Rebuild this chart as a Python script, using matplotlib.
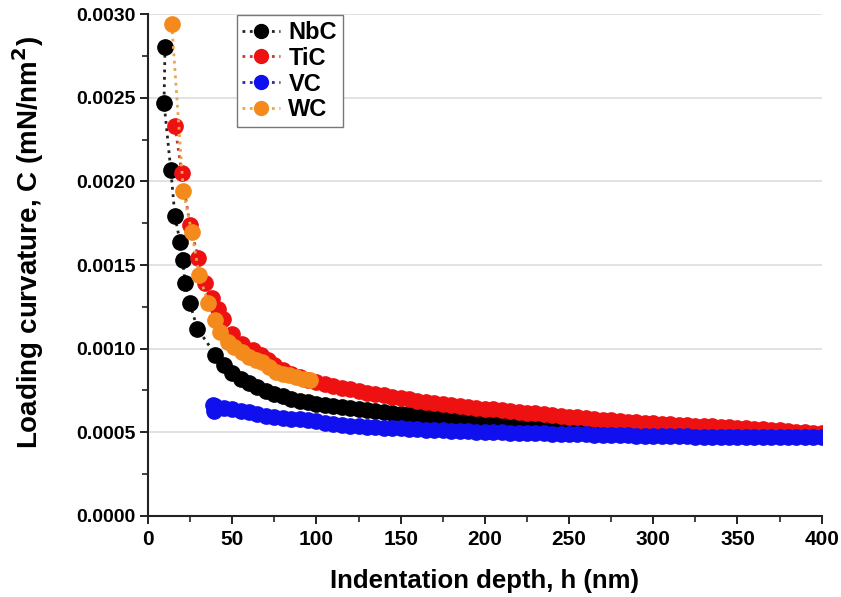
"""Loading curvature vs indentation depth for four carbides."""

import numpy as np
import matplotlib
matplotlib.use("Agg")
import matplotlib.pyplot as plt
from matplotlib.ticker import MultipleLocator, FormatStrFormatter


# values, curvature in units of 1e-4 mN/nm^2
band_h = np.arange(40, 405, 5)

nbc_h_early = [10.1, 9.5, 13.5, 16.0, 19.0, 20.6, 22.0, 24.9, 29.3]
nbc_c_early = [28.0, 24.7, 20.7, 17.9, 16.4, 15.3, 13.9, 12.7, 11.2]
nbc_c_band = [
    9.65, 9.05, 8.55, 8.20, 7.92, 7.68, 7.47, 7.30, 7.15, 7.02, 6.90, 6.80, 6.72,
    6.65, 6.58, 6.52, 6.46, 6.40, 6.34, 6.28, 6.22, 6.17, 6.12,
    6.07, 6.02, 5.98, 5.94, 5.90, 5.86, 5.82, 5.78, 5.74, 5.70,
    5.66, 5.63, 5.60, 5.57, 5.54, 5.51, 5.48, 5.45, 5.42, 5.39,
    5.36, 5.33, 5.30, 5.27, 5.24, 5.21, 5.18, 5.15, 5.13, 5.11,
    5.09, 5.07, 5.06, 5.05, 5.04, 5.03, 5.02, 5.01, 5.00, 4.99,
    4.98, 4.97, 4.96, 4.95, 4.94, 4.94, 4.93, 4.93, 4.92, 4.92,
]

tic_h_early = [16.0, 20.0, 24.9, 29.9, 33.8, 37.8, 41.7, 44.7, 49.7, 55.6, 62.5, 67.0, 71.0]
tic_c_early = [23.3, 20.5, 17.4, 15.4, 13.9, 13.0, 12.4, 11.8, 10.9, 10.3, 9.9, 9.6, 9.3]
tic_c_band = [
    9.00, 8.72, 8.50, 8.30, 8.12, 7.98,
    7.86, 7.75, 7.65, 7.56, 7.47, 7.38, 7.30, 7.22, 7.14, 7.06,
    6.98, 6.90, 6.82, 6.75, 6.68, 6.62, 6.57, 6.52, 6.47, 6.42,
    6.37, 6.32, 6.27, 6.22, 6.18, 6.14, 6.09, 6.04, 5.99, 5.94,
    5.89, 5.84, 5.79, 5.75, 5.71, 5.67, 5.63, 5.60, 5.57, 5.54,
    5.51, 5.48, 5.45, 5.42, 5.40, 5.37, 5.35, 5.33, 5.31, 5.28,
    5.25, 5.22, 5.18, 5.15, 5.11, 5.07, 5.03, 5.00, 4.97, 4.95,
]

vc_h_early = [38.5, 39.0]
vc_c_early = [6.65, 6.25]
vc_c_band = [
    6.55, 6.45, 6.38, 6.30, 6.20, 6.10, 6.00, 5.93, 5.87, 5.82, 5.77, 5.72, 5.65,
    5.58, 5.50, 5.45, 5.40, 5.36, 5.33, 5.30, 5.27, 5.25, 5.23,
    5.20, 5.18, 5.16, 5.14, 5.12, 5.10, 5.08, 5.06, 5.04, 5.02,
    5.00, 4.99, 4.98, 4.96, 4.95, 4.94, 4.93, 4.92, 4.91, 4.90,
    4.89, 4.88, 4.87, 4.86, 4.85, 4.84, 4.82, 4.81, 4.80, 4.79,
    4.78, 4.77, 4.77, 4.76, 4.75, 4.75, 4.74, 4.73, 4.73, 4.72,
    4.72, 4.71, 4.71, 4.71, 4.70, 4.70, 4.70, 4.70, 4.70, 4.70,
]

wc_h = [14.1, 21.0, 25.9, 30.4, 35.8, 39.8, 43.0, 47.7, 51.0, 55.6,
        60.0, 64.0, 67.5, 72.0, 76.0, 80.0, 84.0, 88.0, 92.0, 96.0]
wc_c = [29.4, 19.4, 17.0, 14.4, 12.7, 11.7, 11.0, 10.4, 10.1, 9.8,
        9.5, 9.3, 9.2, 8.9, 8.6, 8.5, 8.4, 8.3, 8.2, 8.1]

series = [
    ("NbC", nbc_h_early + list(band_h), nbc_c_early + nbc_c_band, "#000000", "#222222"),
    ("TiC", tic_h_early + list(band_h[7:]), tic_c_early + tic_c_band, "#ee1111", "#c23a3a"),
    ("VC", vc_h_early + list(band_h), vc_c_early + vc_c_band, "#1010ee", "#2a2a99"),
    ("WC", wc_h, wc_c, "#f58a1c", "#e8a650"),
]

plt.rcParams["font.family"] = ["Liberation Sans", "DejaVu Sans"]

fig = plt.figure(figsize=(8.41, 5.97), dpi=100)
ax = fig.add_axes([0.176, 0.1357, 0.801, 0.8408])

for name, h, c, face, line in series:
    c_vals = np.asarray(c) * 1e-4
    ax.plot(h, c_vals, linestyle=":", linewidth=2.0, color=line)
    ax.plot(h, c_vals, linestyle="none", marker="o", markersize=11,
            markerfacecolor=face, markeredgecolor=face)
    # proxy for legend
    ax.plot([], [], linestyle=":", linewidth=2.0, color=line, marker="o",
            markersize=10, markerfacecolor=face, markeredgecolor=face, label=name)

ax.set_xlim(0, 400)
ax.set_ylim(0, 0.0030)
ax.xaxis.set_major_locator(MultipleLocator(50))
ax.xaxis.set_minor_locator(MultipleLocator(25))
ax.yaxis.set_major_locator(MultipleLocator(0.0005))
ax.yaxis.set_minor_locator(MultipleLocator(0.00025))
ax.yaxis.set_major_formatter(FormatStrFormatter("%.4f"))

ax.grid(axis="y", color="#dddddd", linewidth=1.2)
ax.set_axisbelow(True)
for side in ("top", "right"):
    ax.spines[side].set_visible(False)
for side in ("left", "bottom"):
    ax.spines[side].set_linewidth(1.5)
    ax.spines[side].set_color("#222222")

ax.tick_params(axis="y", which="major", direction="out", length=6, width=1.4,
               labelsize=14, pad=3, color="#222222")
ax.tick_params(axis="x", which="major", direction="out", length=6, width=1.4,
               labelsize=15, pad=4, color="#222222")
ax.tick_params(axis="both", which="minor", direction="out", length=4, width=1.2,
               color="#222222")
for lab in ax.get_xticklabels() + ax.get_yticklabels():
    lab.set_fontweight("bold")

ax.set_xlabel("Indentation depth, h (nm)", fontsize=18.5, fontweight="bold")
ax.xaxis.set_label_coords(0.5, -0.105)
ax.set_ylabel("Loading curvature, C (mN/nm$^{\\mathbf{2}}$)", fontsize=20,
              fontweight="bold")
ax.yaxis.set_label_coords(-0.152, 0.545)

leg = ax.legend(loc="upper left", bbox_to_anchor=(236.5 / 841, 1 - 15 / 597),
                bbox_transform=fig.transFigure, numpoints=1,
                handlelength=1.6, handletextpad=0.35, labelspacing=0.12,
                borderpad=0.25, borderaxespad=0, fancybox=False, framealpha=1,
                edgecolor="#777777", prop={"weight": "bold", "size": 17})
leg.get_frame().set_linewidth(1.0)

fig.savefig("out.png", dpi=100)
